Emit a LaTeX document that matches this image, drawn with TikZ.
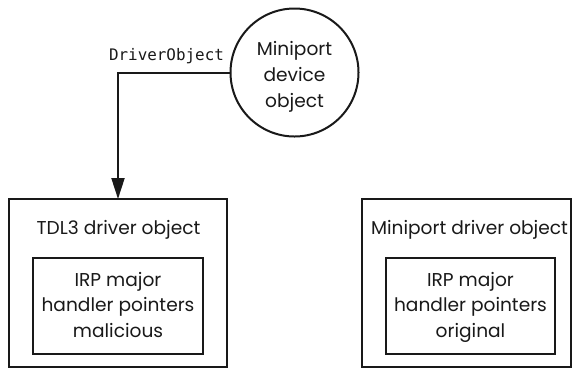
\documentclass[tikz,border=0pt]{standalone}
\usepackage{fontspec}
\setmainfont{Poppins}
\newfontfamily\codefont{DejaVu Sans Mono}
\usetikzlibrary{arrows.meta}
\tikzset{
  frame/.style={draw=black!90, line width=2pt, inner sep=0pt, outer sep=0pt},
  lbl/.style={font=\fontsize{18.6}{22}\selectfont, inner sep=0pt, anchor=base, text=black!90},
  code/.style={font=\codefont\fontsize{15.9}{18}\selectfont, inner sep=0pt, anchor=base, text=black!90},
  conn/.style={draw=black!90, line width=2pt, -{Triangle[length=21pt,width=13pt]}}
}
\begin{document}
\begin{tikzpicture}[x=1pt,y=-1pt]
\useasboundingbox (0,0) rectangle (572,368);
% device object circle
\node[frame, circle, minimum size=128pt] (dev) at (294.5,72.5) {};
\node[lbl] (dev1) at (294.5,55) {Miniport};
\node[lbl] (dev2) at (294.5,81) {device};
\node[lbl] (dev3) at (294.5,107) {object};
% TDL3 driver object
\node[frame, minimum width=218pt, minimum height=168pt] (tdl) at (118,283) {};
\node[lbl] (tdlt) at (118.5,234) {TDL3 driver object};
\node[frame, minimum width=170pt, minimum height=96pt] (tdlin) at (118,306) {};
\node[lbl] (tdl1) at (118,286) {IRP major};
\node[lbl] (tdl2) at (118,311.5) {handler pointers};
\node[lbl] (tdl3) at (118,337) {malicious};
% Miniport driver object
\node[frame, minimum width=209pt, minimum height=168pt] (mp) at (466.5,283) {};
\node[lbl] (mpt) at (469.5,234) {Miniport driver object};
\node[frame, minimum width=169pt, minimum height=96pt] (mpin) at (470.5,306) {};
\node[lbl] (mp1) at (470.5,286) {IRP major};
\node[lbl] (mp2) at (470.5,311.5) {handler pointers};
\node[lbl] (mp3) at (470.5,337) {original};
% connector
\node[code] (dobj) at (166.5,60) {DriverObject};
\draw[conn] (dev.west) -| (tdl.north);
\end{tikzpicture}
\end{document}
